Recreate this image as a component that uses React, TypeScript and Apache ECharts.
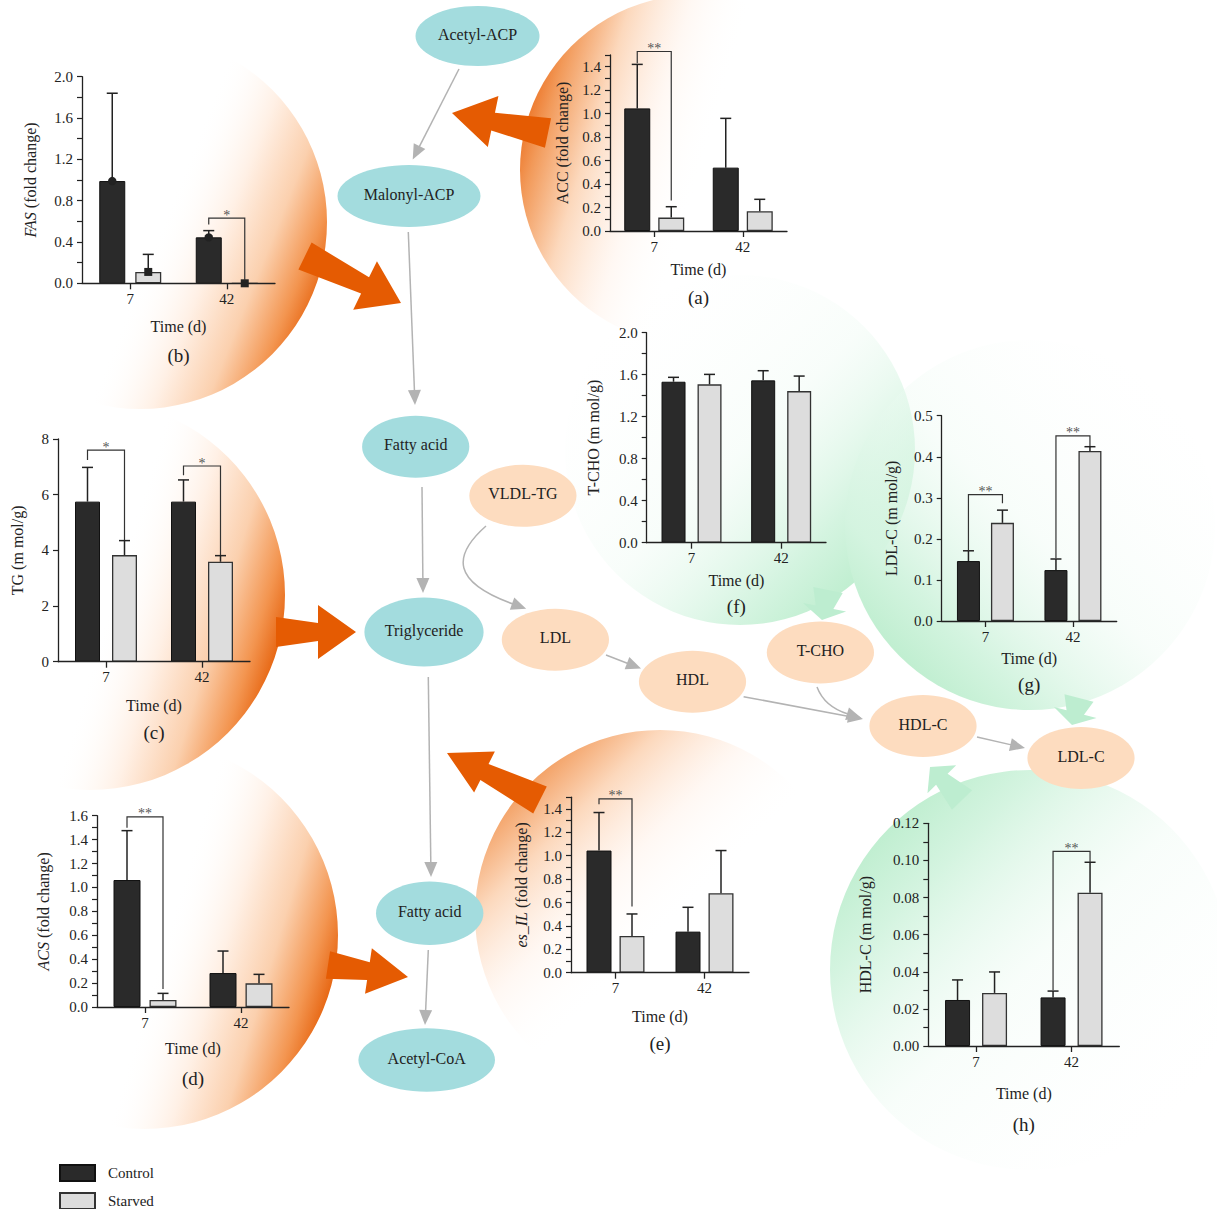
import React, { useEffect, useRef } from 'react';
import * as echarts from 'echarts';

// ---------------- DATA ----------------
const categories = ['7', '42'];

// (a) ACC
const accControl = [1.045, 0.54];
const accControlSD = [0.375, 0.42];
const accStarved = [0.114, 0.168];
const accStarvedSD = [0.093, 0.102];
const accBrackets = [{ cat: 0, top: 1.53, left: 1.43, right: 0.26, label: '**' }];

// (b) FAS
const fasControl = [0.99, 0.445];
const fasControlSD = [0.85, 0.065];
const fasStarved = [0.11, 0.0];
const fasStarvedSD = [0.17, 0.0];
const fasBrackets = [{ cat: 1, top: 0.63, left: 0.57, right: 0.03, label: '*' }];

// (c) TG
const tgControl = [5.75, 5.75];
const tgControlSD = [1.23, 0.78];
const tgStarved = [3.83, 3.59];
const tgStarvedSD = [0.52, 0.22];
const tgBrackets = [
  { cat: 0, top: 7.6, left: 7.25, right: 4.37, label: '*' },
  { cat: 1, top: 7.03, left: 6.7, right: 3.83, label: '*' },
];

// (d) ACS
const acsControl = [1.062, 0.284];
const acsControlSD = [0.413, 0.184];
const acsStarved = [0.059, 0.198];
const acsStarvedSD = [0.055, 0.075];
const acsBrackets = [{ cat: 0, top: 1.59, left: 1.5, right: 0.15, label: '**' }];

// (e) es_IL
const esControl = [1.044, 0.351];
const esControlSD = [0.325, 0.208];
const esStarved = [0.314, 0.679];
const esStarvedSD = [0.188, 0.365];
const esBrackets = [{ cat: 0, top: 1.486, left: 1.44, right: 0.565, label: '**' }];

// (f) T-CHO
const tchoControl = [1.533, 1.546];
const tchoControlSD = [0.042, 0.092];
const tchoStarved = [1.508, 1.444];
const tchoStarvedSD = [0.095, 0.143];
const tchoBrackets: any[] = [];

// (g) LDL-C
const ldlControl = [0.146, 0.124];
const ldlControlSD = [0.025, 0.027];
const ldlStarved = [0.239, 0.414];
const ldlStarvedSD = [0.031, 0.0105];
const ldlBrackets = [
  { cat: 0, top: 0.308, left: 0.172, right: 0.287, label: '**' },
  { cat: 1, top: 0.451, left: 0.153, right: 0.426, label: '**' },
];

// (h) HDL-C
const hdlControl = [0.0248, 0.0262];
const hdlControlSD = [0.0108, 0.0034];
const hdlStarved = [0.0286, 0.0826];
const hdlStarvedSD = [0.0113, 0.0164];
const hdlBrackets = [{ cat: 1, top: 0.1049, left: 0.03, right: 0.099, label: '**' }];

const legendNames = ['Control', 'Starved'];

// ---------------- LAYOUT / STYLE ----------------
const FONT = '"Liberation Serif", "Times New Roman", serif';
const INK = '#222';

const panels: any[] = [
  { tag: '(a)', yName: 'ACC (fold change)', control: accControl, controlSD: accControlSD, starved: accStarved, starvedSD: accStarvedSD, brackets: accBrackets,
    yMax: 1.5, tickStep: 0.1, labelStep: 0.2, dec: 1, left: 610, top: 55, width: 177, height: 176, barW: 26, gap: 8, yNameGap: 40, xNameGap: 30, tagGap: 66 },
  { tag: '(b)', yName: '{i|FAS} (fold change)', control: fasControl, controlSD: fasControlSD, starved: fasStarved, starvedSD: fasStarvedSD, brackets: fasBrackets,
    yMax: 2.0, tickStep: 0.2, labelStep: 0.4, dec: 1, left: 82, top: 76.7, width: 193, height: 206.6, barW: 26, gap: 10, yNameGap: 44, xNameGap: 35, tagGap: 72, markers: true },
  { tag: '(c)', yName: 'TG (m mol/g)', control: tgControl, controlSD: tgControlSD, starved: tgStarved, starvedSD: tgStarvedSD, brackets: tgBrackets,
    yMax: 8, tickStep: 2, labelStep: 2, dec: 0, left: 58, top: 439, width: 192, height: 222.7, barW: 25, gap: 12, yNameGap: 33, xNameGap: 36, tagGap: 71 },
  { tag: '(d)', yName: '{i|ACS} (fold change)', control: acsControl, controlSD: acsControlSD, starved: acsStarved, starvedSD: acsStarvedSD, brackets: acsBrackets,
    yMax: 1.6, tickStep: 0.1, labelStep: 0.2, dec: 1, left: 97, top: 815.7, width: 192, height: 191.3, barW: 27, gap: 9, yNameGap: 46, xNameGap: 33, tagGap: 71 },
  { tag: '(e)', yName: '{i|es_IL} (fold change)', control: esControl, controlSD: esControlSD, starved: esStarved, starvedSD: esStarvedSD, brackets: esBrackets,
    yMax: 1.5, tickStep: 0.1, labelStep: 0.2, dec: 1, left: 571, top: 797.2, width: 178, height: 175.5, barW: 25, gap: 8, yNameGap: 42, xNameGap: 36, tagGap: 71 },
  { tag: '(f)', yName: 'T-CHO (m mol/g)', control: tchoControl, controlSD: tchoControlSD, starved: tchoStarved, starvedSD: tchoStarvedSD, brackets: tchoBrackets,
    yMax: 2.0, tickStep: 0.2, labelStep: 0.4, dec: 1, left: 646.7, top: 332.7, width: 179.3, height: 210, barW: 24, gap: 12, yNameGap: 45, xNameGap: 30, tagGap: 64 },
  { tag: '(g)', yName: 'LDL-C (m mol/g)', control: ldlControl, controlSD: ldlControlSD, starved: ldlStarved, starvedSD: ldlStarvedSD, brackets: ldlBrackets,
    yMax: 0.5, tickStep: 0.1, labelStep: 0.1, dec: 1, left: 941.7, top: 415.7, width: 175, height: 205.3, barW: 23, gap: 11, yNameGap: 42, xNameGap: 29, tagGap: 63 },
  { tag: '(h)', yName: 'HDL-C (m mol/g)', control: hdlControl, controlSD: hdlControlSD, starved: hdlStarved, starvedSD: hdlStarvedSD, brackets: hdlBrackets,
    yMax: 0.12, tickStep: 0.01, labelStep: 0.02, dec: 2, left: 928.3, top: 823.3, width: 191, height: 222.7, barW: 25, gap: 12, yNameGap: 55, xNameGap: 39, tagGap: 78 },
];

const tealNodes = [
  { name: 'Acetyl-ACP', cx: 477.5, cy: 36, rx: 62, ry: 30 },
  { name: 'Malonyl-ACP', cx: 409, cy: 196, rx: 71.5, ry: 31 },
  { name: 'Fatty acid', cx: 415.7, cy: 446.7, rx: 53.6, ry: 31 },
  { name: 'Triglyceride', cx: 424, cy: 632, rx: 59.6, ry: 34.5 },
  { name: 'Fatty acid', cx: 429.7, cy: 913.3, rx: 53.7, ry: 31.7 },
  { name: 'Acetyl-CoA', cx: 426.7, cy: 1060, rx: 68.3, ry: 31.7 },
];
const peachNodes = [
  { name: 'VLDL-TG', cx: 522.9, cy: 495.8, rx: 53.6, ry: 31 },
  { name: 'LDL', cx: 555.4, cy: 639.8, rx: 53.6, ry: 31 },
  { name: 'HDL', cx: 692.5, cy: 681.7, rx: 53.6, ry: 31 },
  { name: 'T-CHO', cx: 820.4, cy: 652.5, rx: 53.6, ry: 31 },
  { name: 'HDL-C', cx: 923, cy: 726, rx: 53.6, ry: 31 },
  { name: 'LDL-C', cx: 1081, cy: 758, rx: 53.6, ry: 31 },
];

const grayArrows = [
  [459, 69, 412.7, 159.5],
  [408.3, 232, 415, 405],
  [422, 487, 423, 593],
  [428.3, 677, 431, 877],
  [428.3, 950, 425, 1025],
  [606, 655, 641, 668.5],
  [743.6, 696.7, 863, 719],
  [977, 737, 1025, 748],
];
const grayCurves = [
  [486, 526, 452, 556, 452, 582, 513, 604],
  [817, 687, 823, 703, 835, 710, 848, 714],
];

const orangeArrows = [
  { tail: [548, 133], tip: [452, 113], tailW: 30, neckW: 18, headLen: 42, headW: 52 },
  { tail: [305, 256], tip: [401, 303], tailW: 30, neckW: 18, headLen: 40, headW: 54 },
  { tail: [276, 632], tip: [356, 632], tailW: 30, neckW: 18, headLen: 38, headW: 54 },
  { tail: [328, 965], tip: [408, 977], tailW: 28, neckW: 18, headLen: 40, headW: 46 },
  { tail: [540, 800], tip: [447, 753], tailW: 30, neckW: 18, headLen: 42, headW: 46 },
];
const greenArrows = [
  { tail: [828, 590], tip: [822, 620], tailW: 30, neckW: 18, headLen: 13, headW: 44 },
  { tail: [1079, 698], tip: [1072, 725], tailW: 30, neckW: 18, headLen: 13, headW: 44 },
  { tail: [962, 800], tip: [930, 767], tailW: 28, neckW: 16, headLen: 17, headW: 40 },
];

const ORANGE_RIGHT = [
  [0, 'rgba(255,255,255,0)'], [0.55, 'rgba(255,255,255,0)'], [0.7, '#fff0e5'], [0.82, '#fbd0ae'],
  [0.92, '#f39550'], [1, '#e35800'],
];
const ORANGE_LEFT = [
  [0, '#ec7020'], [0.07, '#f29a5a'], [0.2, '#fcd8bc'], [0.36, 'rgba(255,240,230,0.45)'], [0.52, 'rgba(255,255,255,0)'], [1, 'rgba(255,255,255,0)'],
];
const ORANGE_LEFT_E = [
  [0, '#ec7020'], [0.1, '#f29a5a'], [0.25, '#fcd8bc'], [0.42, 'rgba(255,240,230,0.45)'], [0.6, 'rgba(255,255,255,0)'], [1, 'rgba(255,255,255,0)'],
];
const GREEN = [
  [0, 'rgba(255,255,255,0)'], [0.5, 'rgba(235,250,241,0.35)'], [0.8, '#d4f4e0'], [1, '#b8ecca'],
];

const bgCircles = [
  { cx: 140, cy: 222, r: 187, g: [0, 0.3, 1, 0.7], stops: ORANGE_RIGHT },
  { cx: 695, cy: 170, r: 175, g: [0, 0.35, 1, 0.65], stops: ORANGE_LEFT },
  { cx: 90, cy: 595, r: 195, g: [0, 0.35, 1, 0.65], stops: ORANGE_RIGHT },
  { cx: 144, cy: 935, r: 194, g: [0, 0.35, 1, 0.65], stops: ORANGE_RIGHT },
  { cx: 660, cy: 915, r: 185, g: [0, 0.1, 0.8, 0.9], stops: ORANGE_LEFT_E },
  { cx: 740, cy: 450, r: 175, g: [0.1, 0.1, 0.9, 0.9], stops: GREEN },
  { cx: 1030, cy: 525, r: 185, g: [0.9, 0.1, 0.1, 0.9], stops: GREEN },
  { cx: 1030, cy: 970, r: 200, g: [0.9, 0.9, 0.1, 0.1], stops: GREEN },
];

// ---------------- HELPERS ----------------
function grad(g: number[], stops: any[]) {
  return new echarts.graphic.LinearGradient(g[0], g[1], g[2], g[3], stops.map((s) => ({ offset: s[0], color: s[1] })));
}

function bigArrow(a: any) {
  const [x0, y0] = a.tail;
  const [x1, y1] = a.tip;
  const L = Math.hypot(x1 - x0, y1 - y0);
  const dx = (x1 - x0) / L, dy = (y1 - y0) / L;
  const px = -dy, py = dx;
  const nx = x1 - dx * a.headLen, ny = y1 - dy * a.headLen;
  return [
    [x0 + px * a.tailW / 2, y0 + py * a.tailW / 2],
    [nx + px * a.neckW / 2, ny + py * a.neckW / 2],
    [nx + px * a.headW / 2, ny + py * a.headW / 2],
    [x1, y1],
    [nx - px * a.headW / 2, ny - py * a.headW / 2],
    [nx - px * a.neckW / 2, ny - py * a.neckW / 2],
    [x0 - px * a.tailW / 2, y0 - py * a.tailW / 2],
  ];
}

function head(fx: number, fy: number, tx: number, ty: number, len: number, w: number) {
  const L = Math.hypot(tx - fx, ty - fy);
  const dx = (tx - fx) / L, dy = (ty - fy) / L;
  const nx = tx - dx * len, ny = ty - dy * len;
  return [[tx, ty], [nx - dy * w / 2, ny + dx * w / 2], [nx + dy * w / 2, ny - dx * w / 2]];
}

const isMult = (v: number, s: number) => Math.abs(v / s - Math.round(v / s)) < 1e-6;

function buildOption() {
  const grid: any[] = [];
  const xAxis: any[] = [];
  const yAxis: any[] = [];
  const series: any[] = [];
  const graphic: any[] = [];
  const axisLine = { show: true, lineStyle: { color: INK, width: 1.3 } };

  panels.forEach((p, gi) => {
    grid.push({ left: p.left, top: p.top, width: p.width, height: p.height });
    xAxis.push({
      type: 'category', gridIndex: gi, data: categories, z: 15,
      axisLine, axisTick: { show: true, alignWithLabel: true, length: 6, lineStyle: { color: INK, width: 1.3 } },
      axisLabel: { fontSize: 15, fontFamily: FONT, color: INK, margin: 8 },
      name: 'Time (d)', nameLocation: 'middle', nameGap: p.xNameGap,
      nameTextStyle: { fontSize: 16, fontFamily: FONT, color: INK },
    });
    yAxis.push({
      type: 'value', gridIndex: gi, min: 0, max: p.yMax, interval: p.tickStep, z: 15,
      splitLine: { show: false }, axisLine,
      axisTick: { show: true, length: 5, lineStyle: { color: INK, width: 1.2 } },
      axisLabel: {
        fontSize: 15, fontFamily: FONT, color: INK, margin: 9,
        formatter: (v: number) => (isMult(v, p.labelStep) ? v.toFixed(p.dec) : ''),
      },
      name: p.yName, nameLocation: 'middle', nameGap: p.yNameGap,
      nameTextStyle: {
        fontSize: 16, fontFamily: FONT, color: INK,
        rich: { i: { fontStyle: 'italic', fontSize: 16, fontFamily: FONT, color: INK } },
      },
    });
    const off = (p.barW + p.gap) / 2;
    series.push({
      type: 'bar', name: 'Control', xAxisIndex: gi, yAxisIndex: gi, data: p.control, z: 10,
      barWidth: p.barW, barGap: `${(p.gap / p.barW) * 100}%`, silent: true,
      itemStyle: { color: '#2a2a2a', borderColor: '#111', borderWidth: 1 },
    });
    series.push({
      type: 'bar', name: 'Starved', xAxisIndex: gi, yAxisIndex: gi, data: p.starved, z: 10,
      barWidth: p.barW, barGap: `${(p.gap / p.barW) * 100}%`, silent: true,
      itemStyle: { color: '#dddddd', borderColor: '#333', borderWidth: 1.3 },
    });
    [[p.control, p.controlSD, -off, 'circle'], [p.starved, p.starvedSD, off, 'square']].forEach(([means, sds, dx, mk]: any) => {
      series.push({
        type: 'custom', xAxisIndex: gi, yAxisIndex: gi, z: 12, silent: true,
        data: means.map((m: number, i: number) => [i, m, sds[i]]),
        renderItem: (params: any, api: any) => {
          const c = api.value(0), m = api.value(1), s = api.value(2);
          const b = api.coord([c, m]);
          const t = api.coord([c, m + s]);
          const x = b[0] + dx;
          const children: any[] = [];
          if (s > 0) {
            children.push({ type: 'line', shape: { x1: x, y1: b[1], x2: x, y2: t[1] }, style: { stroke: INK, lineWidth: 1.5 } });
            children.push({ type: 'line', shape: { x1: x - 5.5, y1: t[1], x2: x + 5.5, y2: t[1] }, style: { stroke: INK, lineWidth: 1.5 } });
          }
          if (p.markers) {
            if (mk === 'circle') children.push({ type: 'circle', shape: { cx: x, cy: b[1], r: 4.2 }, style: { fill: INK } });
            else children.push({ type: 'rect', shape: { x: x - 4, y: b[1] - 4, width: 8, height: 8 }, style: { fill: INK } });
          }
          return { type: 'group', children };
        },
      });
    });
    if (p.brackets.length) {
      series.push({
        type: 'custom', xAxisIndex: gi, yAxisIndex: gi, z: 13, silent: true,
        data: p.brackets.map((b: any) => [b.cat, b.top, b.left, b.right]),
        renderItem: (params: any, api: any) => {
          const br = p.brackets[params.dataIndex];
          const c = api.value(0);
          const pt = api.coord([c, api.value(1)]);
          const pl = api.coord([c, api.value(2)]);
          const pr = api.coord([c, api.value(3)]);
          const xl = pt[0] - off, xr = pt[0] + off;
          return {
            type: 'group',
            children: [
              { type: 'polyline', shape: { points: [[xl, pl[1]], [xl, pt[1]], [xr, pt[1]], [xr, pr[1]]] }, style: { stroke: '#333', lineWidth: 1.2, fill: null } },
              { type: 'text', x: (xl + xr) / 2, y: pt[1] - 3, style: { text: br.label, textAlign: 'center', textVerticalAlign: 'middle', fontSize: 14, fontFamily: FONT, fill: '#555' } },
            ],
          };
        },
      });
    }
    graphic.push({
      type: 'text', x: p.left + p.width / 2, y: p.top + p.height + p.tagGap, z: 30, silent: true,
      style: { text: p.tag, textAlign: 'center', textVerticalAlign: 'middle', fontSize: 19, fontFamily: FONT, fill: INK },
    });
  });

  bgCircles.forEach((c) => {
    graphic.push({ type: 'circle', z: 0, silent: true, shape: { cx: c.cx, cy: c.cy, r: c.r }, style: { fill: grad(c.g, c.stops) } });
  });
  orangeArrows.forEach((a) => {
    graphic.push({ type: 'polygon', z: 1, silent: true, shape: { points: bigArrow(a) }, style: { fill: '#e55b02' } });
  });
  greenArrows.forEach((a) => {
    graphic.push({ type: 'polygon', z: 1, silent: true, shape: { points: bigArrow(a) }, style: { fill: '#bdedd0' } });
  });
  grayArrows.forEach(([x0, y0, x1, y1]) => {
    const L = Math.hypot(x1 - x0, y1 - y0);
    const nx = x1 - ((x1 - x0) / L) * 14, ny = y1 - ((y1 - y0) / L) * 14;
    graphic.push({ type: 'line', z: 18, silent: true, shape: { x1: x0, y1: y0, x2: nx, y2: ny }, style: { stroke: '#b3b3b3', lineWidth: 1.5 } });
    graphic.push({ type: 'polygon', z: 18, silent: true, shape: { points: head(x0, y0, x1, y1, 15, 13) }, style: { fill: '#b3b3b3' } });
  });
  grayCurves.forEach(([x1, y1, c1x, c1y, c2x, c2y, x2, y2]) => {
    graphic.push({ type: 'bezierCurve', z: 18, silent: true, shape: { x1, y1, cpx1: c1x, cpy1: c1y, cpx2: c2x, cpy2: c2y, x2, y2 }, style: { stroke: '#b3b3b3', lineWidth: 1.5, fill: null } });
    const L = Math.hypot(x2 - c2x, y2 - c2y);
    const tx = x2 + ((x2 - c2x) / L) * 14, ty = y2 + ((y2 - c2y) / L) * 14;
    graphic.push({ type: 'polygon', z: 18, silent: true, shape: { points: head(x2, y2, tx, ty, 15, 13) }, style: { fill: '#b3b3b3' } });
  });
  const node = (n: any, fill: string) => {
    graphic.push({ type: 'ellipse', z: 20, silent: true, shape: { cx: n.cx, cy: n.cy, rx: n.rx, ry: n.ry }, style: { fill } });
    graphic.push({ type: 'text', z: 21, silent: true, x: n.cx, y: n.cy - 2, style: { text: n.name, textAlign: 'center', textVerticalAlign: 'middle', fontSize: 16, fontFamily: FONT, fill: INK } });
  };
  tealNodes.forEach((n) => node(n, '#a3dcde'));
  peachNodes.forEach((n) => node(n, '#fddcbf'));

  const legendBase = {
    itemWidth: 35, itemHeight: 16, icon: 'rect', selectedMode: false, left: 59, padding: 0,
    textStyle: { fontSize: 15, fontFamily: FONT, color: INK, padding: [0, 0, 0, 8] },
  };

  return {
    backgroundColor: '#ffffff',
    animation: false,
    grid, xAxis, yAxis, series, graphic,
    legend: [
      { ...legendBase, data: [legendNames[0]], top: 1164 },
      { ...legendBase, data: [legendNames[1]], top: 1192 },
    ],
  };
}

export default function App() {
  const ref = useRef<HTMLDivElement>(null);
  useEffect(() => {
    if (!ref.current) return;
    const chart = echarts.init(ref.current, undefined, { renderer: 'svg' });
    chart.setOption(buildOption() as any);
    return () => chart.dispose();
  }, []);
  return <div ref={ref} style={{ position: 'absolute', left: 0, top: 0, width: 1217, height: 1209 }} />;
}
